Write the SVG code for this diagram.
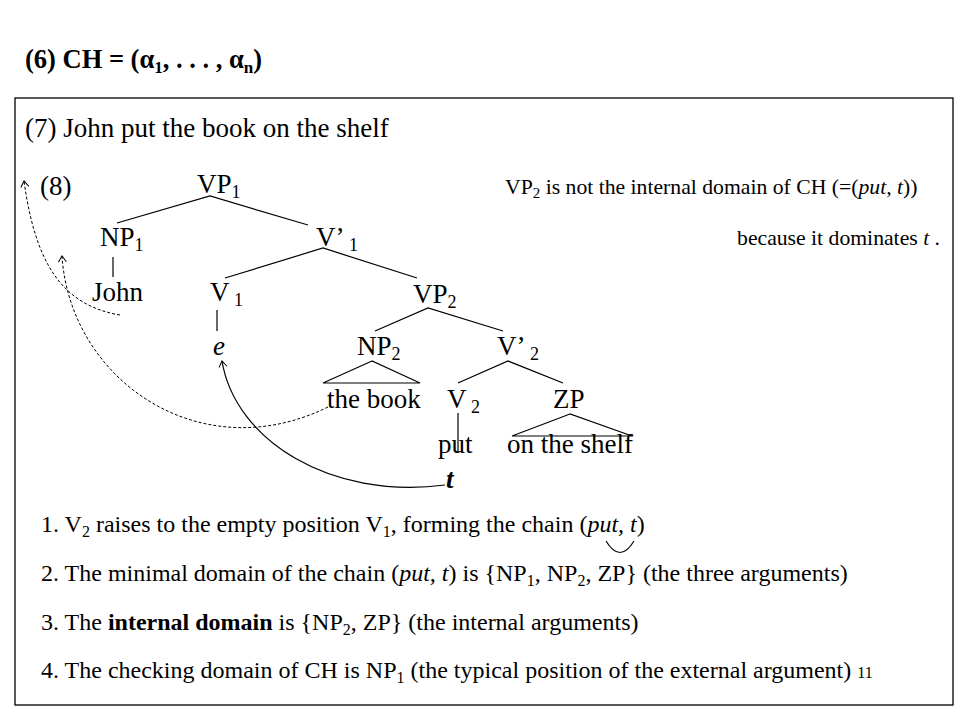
<svg xmlns="http://www.w3.org/2000/svg" width="960" height="720" viewBox="0 0 960 720">
<defs>
<style>
text{font-family:"Liberation Serif","Times New Roman",serif;fill:#000}
.t{font-size:27px}
.s{font-size:18px}
.r{font-size:21.7px}
.b{font-size:24px}
.ttl{font-size:26.5px;font-weight:bold}
.ln{stroke:#000;stroke-width:1.2;fill:none}
.dash{stroke:#000;stroke-width:1;fill:none;stroke-dasharray:3 2}
.sol{stroke:#000;stroke-width:1.2;fill:none}
</style>
<marker id="ah" viewBox="-8 -5 10 10" refX="0" refY="0" markerWidth="10" markerHeight="10" markerUnits="userSpaceOnUse" orient="auto">
<path d="M -6 -4 L 0 0 L -6 4" fill="none" stroke="#000" stroke-width="1" stroke-dasharray="none"/>
</marker>
</defs>
<rect width="960" height="720" fill="#fff"/>
<g id="title"><text class="ttl" x="25" y="68">(6) CH = (α<tspan font-size="17" dy="5">1</tspan><tspan dy="-5">, . . . , α</tspan><tspan font-size="17" dy="5">n</tspan><tspan dy="-5">)</tspan></text></g>
<rect id="frame" x="15" y="98" width="938" height="607" fill="none" stroke="#000" stroke-width="1.3"/>
<g id="ex7"><text class="t" x="25" y="137">(7) John put the book on the shelf</text></g>
<g id="ex8"><text class="t" x="40" y="195">(8)</text></g>
<g id="note"><text class="r" x="505" y="194">VP<tspan font-size="15" dy="4">2</tspan><tspan dy="-4"> is not the internal domain of  CH (=(</tspan><tspan font-style="italic">put, t</tspan>))</text>
<text class="r" x="940" y="245" text-anchor="end">because it dominates <tspan font-style="italic">t</tspan> .</text></g>
<g id="n-vp1"><text class="t" x="197" y="193">VP<tspan class="s" dy="5">1</tspan></text></g>
<g id="n-np1"><text class="t" x="100" y="246">NP<tspan class="s" dy="5">1</tspan></text></g>
<g id="n-v1p"><text class="t" x="316" y="246">V’<tspan class="s" dy="5"> 1</tspan></text></g>
<g id="n-john"><text class="t" x="92" y="301">John</text></g>
<g id="n-v1"><text class="t" x="210" y="301">V<tspan class="s" dy="5"> 1</tspan></text></g>
<g id="n-vp2"><text class="t" x="413" y="303">VP<tspan class="s" dy="5">2</tspan></text></g>
<g id="n-e"><text class="t" x="213" y="355" font-style="italic">e</text></g>
<g id="n-np2"><text class="t" x="357" y="355">NP<tspan class="s" dy="5">2</tspan></text></g>
<g id="n-v2p"><text class="t" x="497" y="355">V’<tspan class="s" dy="5"> 2</tspan></text></g>
<g id="n-book"><text class="t" x="327" y="408">the book</text></g>
<g id="n-v2"><text class="t" x="447" y="408">V<tspan class="s" dy="5"> 2</tspan></text></g>
<g id="n-zp"><text class="t" x="553" y="408">ZP</text></g>
<g id="n-put"><text class="t" x="438" y="453">put</text></g>
<g id="n-shelf"><text class="t" x="507" y="453">on the shelf</text></g>
<g id="n-t"><text class="t" x="446" y="488" font-style="italic" font-weight="bold" font-size="20">t</text></g>
<g id="connectors">
<path class="ln" d="M117 223 L210 196 L308 225"/>
<path class="ln" d="M113 257 L113 277"/>
<path class="ln" d="M225 278 L323 248 L417 278"/>
<path class="ln" d="M217 310 L217 331"/>
<path class="ln" d="M375 331 L428 308 L503 331"/>
<path class="ln" d="M372 361 L323 383 L420 383 Z"/>
<path class="ln" d="M458 383 L508 361 L563 383"/>
<path class="ln" d="M458 413 L458 452"/>
<path class="ln" d="M570 414 L512 436 L632 436 Z"/>
<path class="sol" d="M445 485 C330 500 235 440 222 361" marker-end="url(#ah)"/>
<path class="dash" d="M328 407 C200 470 70 380 62 256" marker-end="url(#ah)"/>
<path class="dash" d="M120 315 C60 305 35 260 24 181" marker-end="url(#ah)"/>
<path class="sol" d="M606 541 Q620 564 634 541"/>
</g>
<g id="list">
<text class="b" x="41" y="532">1. V<tspan font-size="16" dy="5">2</tspan><tspan dy="-5"> raises to the empty position V</tspan><tspan font-size="16" dy="5">1</tspan><tspan dy="-5">, forming the chain (</tspan><tspan font-style="italic">put, t</tspan>)</text>
<text class="b" x="41" y="581">2. The minimal domain of the chain (<tspan font-style="italic">put, t</tspan>) is {NP<tspan font-size="16" dy="5">1</tspan><tspan dy="-5">, NP</tspan><tspan font-size="16" dy="5">2</tspan><tspan dy="-5">, ZP} (the three arguments)</tspan></text>
<text class="b" x="41" y="630">3. The <tspan font-weight="bold">internal domain</tspan> is {NP<tspan font-size="16" dy="5">2</tspan><tspan dy="-5">, ZP} (the internal arguments)</tspan></text>
<text class="b" x="41" y="678">4. The checking domain of CH is NP<tspan font-size="16" dy="5">1</tspan><tspan dy="-5"> (the typical position of the external argument) </tspan><tspan font-size="16">11</tspan></text>
</g>
</svg>
